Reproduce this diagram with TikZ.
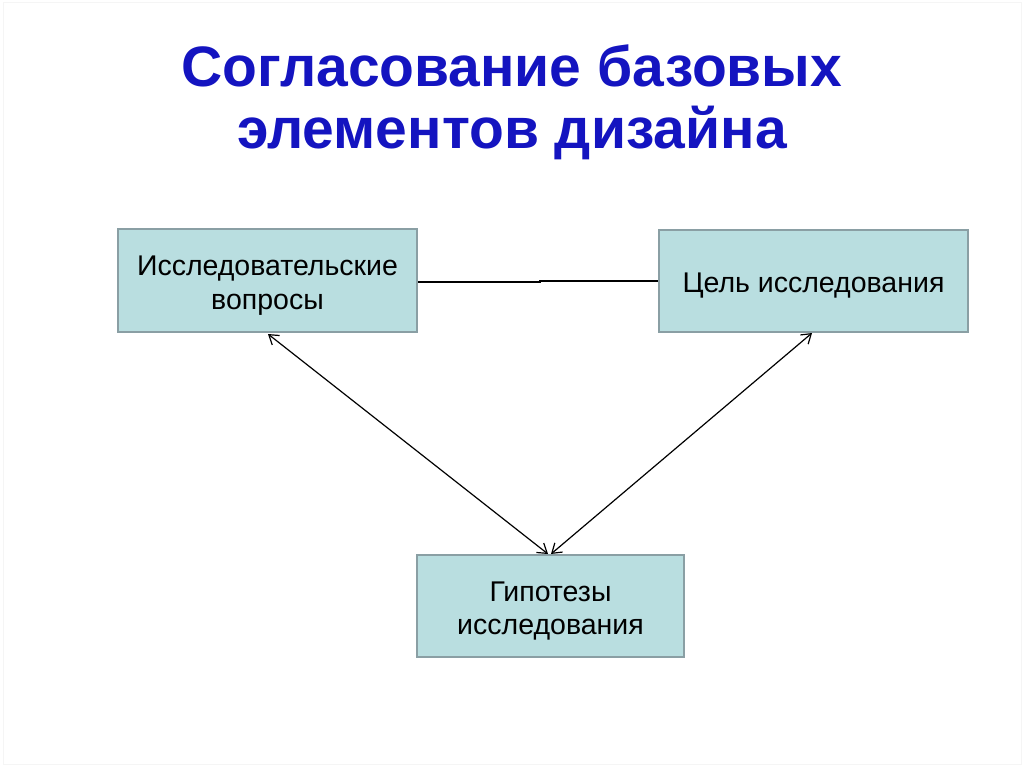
\documentclass[tikz,border=0pt]{standalone}
\usepackage{fontspec}
\setmainfont{Liberation Sans}
\usetikzlibrary{arrows.meta}
\definecolor{boxfill}{HTML}{B9DEE0}
\definecolor{boxline}{HTML}{8A9FA4}
\definecolor{titleblue}{HTML}{1414C0}
\tikzset{
  box/.style={draw=boxline, line width=2.4pt, fill=boxfill, inner sep=0pt},
  boxtext/.style={align=center, inner sep=0pt, yshift=-5pt, font=\fontsize{28.5}{33.5}\selectfont},
  conn/.style={draw=black, line width=1.2pt},
  biarrow/.style={conn, {Straight Barb[length=9pt,width=12pt]}-{Straight Barb[length=9pt,width=12pt]}},
}
\begin{document}
\begin{tikzpicture}[x=1pt,y=-1pt]
\useasboundingbox (0,0) rectangle (1024,767);
\draw[black!4, line width=1pt] (3,3) rectangle (1021,764);
\node[text=titleblue, font=\bfseries\fontsize{57}{62}\selectfont, align=center] (title) at (512,102)
  {Согласование базовых\\элементов дизайна};
\node[box, minimum width=299pt, minimum height=103pt,
  label={[boxtext]center:{Исследовательские\\вопросы}}] (q) at (267.5,280.5) {};
\node[box, minimum width=309pt, minimum height=102pt,
  label={[boxtext]center:{Цель исследования}}] (g) at (813.5,281) {};
\node[box, minimum width=267pt, minimum height=102pt,
  label={[boxtext]center:{Гипотезы\\исследования}}] (h) at (550.5,606) {};
\coordinate (m1) at (540,282);
\coordinate (m2) at (540,281);
\draw[conn] (q.east |- m1) -- (m1) -- (m2) -- (g.west |- m2);
\coordinate (qa) at (268,334);
\coordinate (ga) at (812,333);
\coordinate (ha1) at (548,554);
\coordinate (ha2) at (551,554);
\draw[biarrow] (qa) -- (ha1);
\draw[biarrow] (ga) -- (ha2);
\end{tikzpicture}
\end{document}
